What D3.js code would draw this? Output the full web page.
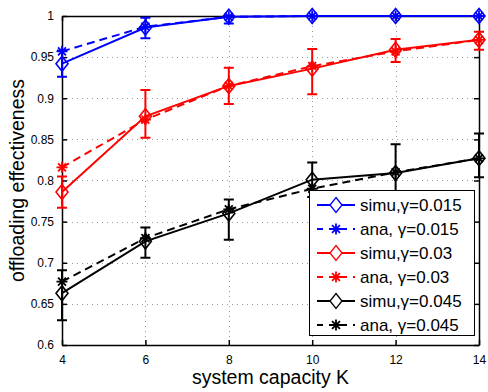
<!DOCTYPE html>
<html>
<head>
<meta charset="utf-8">
<script src="https://cdn.jsdelivr.net/npm/d3@7"></script>
<style>
  body { margin: 0; background: #fff; }
  svg { display: block; font-family: "Liberation Sans", Arial, sans-serif; }
</style>
</head>
<body>
<svg id="chart" width="488" height="392"></svg>
<script>
// System capacity K on the x axis
const capacity = [4, 6, 8, 10, 12, 14];
const xTicks = [4, 6, 8, 10, 12, 14];
const yTicks = [0.6, 0.65, 0.7, 0.75, 0.8, 0.85, 0.9, 0.95, 1];
const yTickLabels = ["0.6", "0.65", "0.7", "0.75", "0.8", "0.85", "0.9", "0.95", "1"];

// gamma = 0.015
const simu015 = [0.942, 0.986, 0.999, 1.0, 1.0, 1.0];
const simu015Low = [0.926, 0.973, 0.991, 1.0, 1.0, 1.0];
const simu015High = [0.958, 0.998, 1.0, 1.0, 1.0, 1.0];
const ana015 = [0.957, 0.987, 0.999, 1.0, 1.0, 1.0];

// gamma = 0.03
const simu03 = [0.786, 0.878, 0.915, 0.936, 0.959, 0.971];
const simu03Low = [0.767, 0.852, 0.893, 0.905, 0.944, 0.959];
const simu03High = [0.805, 0.910, 0.937, 0.960, 0.972, 0.981];
const ana03 = [0.816, 0.874, 0.915, 0.939, 0.957, 0.971];

// gamma = 0.045
const simu045 = [0.663, 0.726, 0.760, 0.801, 0.809, 0.827];
const simu045Low = [0.630, 0.706, 0.728, 0.780, 0.775, 0.804];
const simu045High = [0.691, 0.743, 0.777, 0.822, 0.844, 0.857];
const ana045 = [0.677, 0.730, 0.765, 0.790, 0.810, 0.827];

const legendLabels = ["simu,\u03B3=0.015", "ana, \u03B3=0.015", "simu,\u03B3=0.03", "ana, \u03B3=0.03", "simu,\u03B3=0.045", "ana, \u03B3=0.045"];

const series = [
  { kind: "simu", color: "#0000ff", values: simu015, low: simu015Low, high: simu015High },
  { kind: "ana",  color: "#0000ff", values: ana015 },
  { kind: "simu", color: "#ff0000", values: simu03, low: simu03Low, high: simu03High },
  { kind: "ana",  color: "#ff0000", values: ana03 },
  { kind: "simu", color: "#000000", values: simu045, low: simu045Low, high: simu045High },
  { kind: "ana",  color: "#000000", values: ana045 }
];

const W = 488, H = 392;
const margin = { left: 62, right: 9, top: 16, bottom: 47 };
const svg = d3.select("#chart");

const x = d3.scaleLinear().domain([4, 14]).range([margin.left, W - margin.right]);
const y = d3.scaleLinear().domain([0.6, 1]).range([H - margin.bottom, margin.top]);

// dotted grid
const grid = svg.append("g").attr("stroke", "#9a9a9a").attr("stroke-width", 1).attr("stroke-dasharray", "1,4");
grid.selectAll("line.gx").data(xTicks.slice(1, -1)).join("line")
  .attr("class", "gx")
  .attr("x1", d => Math.round(x(d)) + 0.5).attr("x2", d => Math.round(x(d)) + 0.5)
  .attr("y1", y(1)).attr("y2", y(0.6));
grid.selectAll("line.gy").data(yTicks.slice(1, -1)).join("line")
  .attr("class", "gy")
  .attr("x1", x(4)).attr("x2", x(14))
  .attr("y1", d => Math.round(y(d)) + 0.5).attr("y2", d => Math.round(y(d)) + 0.5);

// axes with inward ticks on all four sides
const tickLen = 5;
const axisBottom = d3.axisBottom(x).tickValues(xTicks).tickFormat(d3.format("d")).tickSizeInner(-tickLen).tickSizeOuter(0).tickPadding(10);
const axisTop = d3.axisTop(x).tickValues(xTicks).tickFormat("").tickSizeInner(-tickLen).tickSizeOuter(0);
const axisLeft = d3.axisLeft(y).tickValues(yTicks).tickFormat((d, i) => yTickLabels[i]).tickSizeInner(-tickLen).tickSizeOuter(0).tickPadding(8);
const axisRight = d3.axisRight(y).tickValues(yTicks).tickFormat("").tickSizeInner(-tickLen).tickSizeOuter(0);

function styleAxis(g) {
  g.select(".domain").attr("stroke", "#000").attr("stroke-width", 1.5);
  g.selectAll(".tick line").attr("stroke", "#000").attr("stroke-width", 1.5);
  g.selectAll(".tick text").attr("fill", "#000").attr("font-size", 12).attr("font-family", "Liberation Sans, Arial, sans-serif");
}

svg.append("g").attr("transform", `translate(0,${y(0.6)})`).call(axisBottom).call(styleAxis);
svg.append("g").attr("transform", `translate(0,${y(1)})`).call(axisTop).call(styleAxis);
svg.append("g").attr("transform", `translate(${x(4)},0)`).call(axisLeft).call(styleAxis);
svg.append("g").attr("transform", `translate(${x(14)},0)`).call(axisRight).call(styleAxis);

// marker shapes
function diamondPath(cx, cy, rx = 6, ry = 7.5) {
  return `M${cx},${cy - ry}L${cx + rx},${cy}L${cx},${cy + ry}L${cx - rx},${cy}Z`;
}
function starPath(cx, cy, r = 5.5) {
  const d = r * 0.72;
  return `M${cx - r},${cy}L${cx + r},${cy}M${cx},${cy - r}L${cx},${cy + r}` +
         `M${cx - d},${cy - d}L${cx + d},${cy + d}M${cx - d},${cy + d}L${cx + d},${cy - d}`;
}

const plot = svg.append("g");
const line = d3.line().x((d, i) => x(capacity[i])).y(d => y(d));

series.forEach(s => {
  const g = plot.append("g");
  if (s.kind === "simu") {
    // error bars
    capacity.forEach((k, i) => {
      if (s.high[i] - s.low[i] < 1e-6) return;
      const cx = x(k), cap = 5;
      g.append("path")
        .attr("d", `M${cx},${y(s.low[i])}L${cx},${y(s.high[i])}` +
                   `M${cx - cap},${y(s.low[i])}L${cx + cap},${y(s.low[i])}` +
                   `M${cx - cap},${y(s.high[i])}L${cx + cap},${y(s.high[i])}`)
        .attr("stroke", s.color).attr("stroke-width", 2).attr("fill", "none");
    });
    g.append("path").datum(s.values).attr("d", line)
      .attr("stroke", s.color).attr("stroke-width", 2).attr("fill", "none");
    g.selectAll("path.mk").data(s.values).join("path").attr("class", "mk")
      .attr("d", (d, i) => diamondPath(x(capacity[i]), y(d)))
      .attr("stroke", s.color).attr("stroke-width", 1.6).attr("fill", "none");
  } else {
    g.append("path").datum(s.values).attr("d", line)
      .attr("stroke", s.color).attr("stroke-width", 2).attr("fill", "none")
      .attr("stroke-dasharray", "8,5");
    g.selectAll("path.mk").data(s.values).join("path").attr("class", "mk")
      .attr("d", (d, i) => starPath(x(capacity[i]), y(d)))
      .attr("stroke", s.color).attr("stroke-width", 1.8).attr("fill", "none");
  }
});

// axis titles
svg.append("text")
  .attr("x", (x(4) + x(14)) / 2).attr("y", 384)
  .attr("text-anchor", "middle").attr("font-size", 19.5).attr("fill", "#000")
  .text("system capacity K");
svg.append("text")
  .attr("transform", `translate(24,${(y(0.6) + y(1)) / 2}) rotate(-90)`)
  .attr("text-anchor", "middle").attr("font-size", 19.5).attr("fill", "#000")
  .text("offloading effectiveness");

// legend
const lg = svg.append("g");
lg.append("rect").attr("x", 309.5).attr("y", 190.5).attr("width", 165).attr("height", 145)
  .attr("fill", "#fff").attr("stroke", "#000").attr("stroke-width", 1);
const rowY = [205, 229, 253, 277, 301, 325];
series.forEach((s, i) => {
  const ry = rowY[i];
  lg.append("line").attr("x1", 317).attr("x2", 355).attr("y1", ry).attr("y2", ry)
    .attr("stroke", s.color).attr("stroke-width", 2)
    .attr("stroke-dasharray", s.kind === "ana" ? "6,6" : null);
  lg.append("path")
    .attr("d", s.kind === "simu" ? diamondPath(336, ry) : starPath(336, ry))
    .attr("stroke", s.color).attr("stroke-width", s.kind === "simu" ? 1.3 : 1.8)
    .attr("fill", s.kind === "simu" ? "#fff" : "none");
  lg.append("text").attr("x", 360).attr("y", ry + 6)
    .attr("font-size", 17).attr("fill", "#000").text(legendLabels[i]);
});
</script>
</body>
</html>
